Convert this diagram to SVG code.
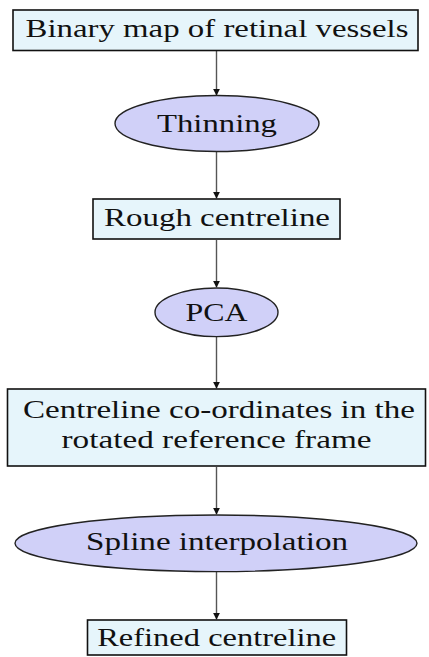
<svg xmlns="http://www.w3.org/2000/svg" width="429" height="657" viewBox="0 0 429 657">
<defs>
<style>
.box{fill:#e6f5fb;stroke:#111;stroke-width:1.6}
.ell{fill:#d0d0f8;stroke:#222;stroke-width:1.4}
.t{font-family:"Liberation Serif","DejaVu Serif",serif;font-size:26px;fill:#111;text-anchor:middle}
.s{font-size:25px}
.c{stroke:#555;stroke-width:1.4;fill:none;marker-end:url(#ah)}
</style>
<marker id="ah" viewBox="0 0 10 10" refX="9" refY="5" markerWidth="7" markerHeight="7" markerUnits="userSpaceOnUse" orient="auto">
<path d="M0,0 L10,5 L0,10 z" fill="#111"/>
</marker>
</defs>
<rect width="429" height="657" fill="#fff"/>
<g id="connectors">
<line class="c" x1="216.5" y1="51" x2="216.5" y2="95"/>
<line class="c" x1="216.5" y1="152" x2="216.5" y2="198"/>
<line class="c" x1="216.5" y1="240" x2="216.5" y2="287"/>
<line class="c" x1="216.5" y1="337" x2="216.5" y2="388"/>
<line class="c" x1="216.5" y1="467" x2="216.5" y2="514"/>
<line class="c" x1="216.5" y1="572" x2="216.5" y2="619"/>
</g>
<g id="n1">
<rect class="box" x="13" y="10" width="405" height="40.5"/>
<text class="t" x="217" y="37" textLength="383" lengthAdjust="spacingAndGlyphs">Binary map of retinal vessels</text>
</g>
<g id="n2">
<ellipse class="ell" cx="217" cy="123.5" rx="102" ry="28"/>
<text class="t" x="217" y="132" textLength="120" lengthAdjust="spacingAndGlyphs">Thinning</text>
</g>
<g id="n3">
<rect class="box" x="93" y="199" width="247" height="40"/>
<text class="t" x="217" y="226" textLength="226" lengthAdjust="spacingAndGlyphs">Rough centreline</text>
</g>
<g id="n4">
<ellipse class="ell" cx="216.5" cy="312.3" rx="61.5" ry="24.3"/>
<text class="t" x="216.5" y="321" textLength="62" lengthAdjust="spacingAndGlyphs">PCA</text>
</g>
<g id="n5">
<rect class="box" x="7.5" y="389" width="418" height="77"/>
<text class="t s" x="219" y="418" textLength="392" lengthAdjust="spacingAndGlyphs">Centreline co-ordinates in the</text>
<text class="t s" x="216.5" y="448" textLength="310" lengthAdjust="spacingAndGlyphs">rotated reference frame</text>
</g>
<g id="n6">
<ellipse class="ell" cx="216" cy="543.3" rx="201" ry="28.3"/>
<text class="t" x="217" y="550" textLength="262" lengthAdjust="spacingAndGlyphs">Spline interpolation</text>
</g>
<g id="n7">
<rect class="box" x="87.5" y="620" width="259" height="35"/>
<text class="t" x="216.7" y="646" textLength="239" lengthAdjust="spacingAndGlyphs">Refined centreline</text>
</g>
</svg>
